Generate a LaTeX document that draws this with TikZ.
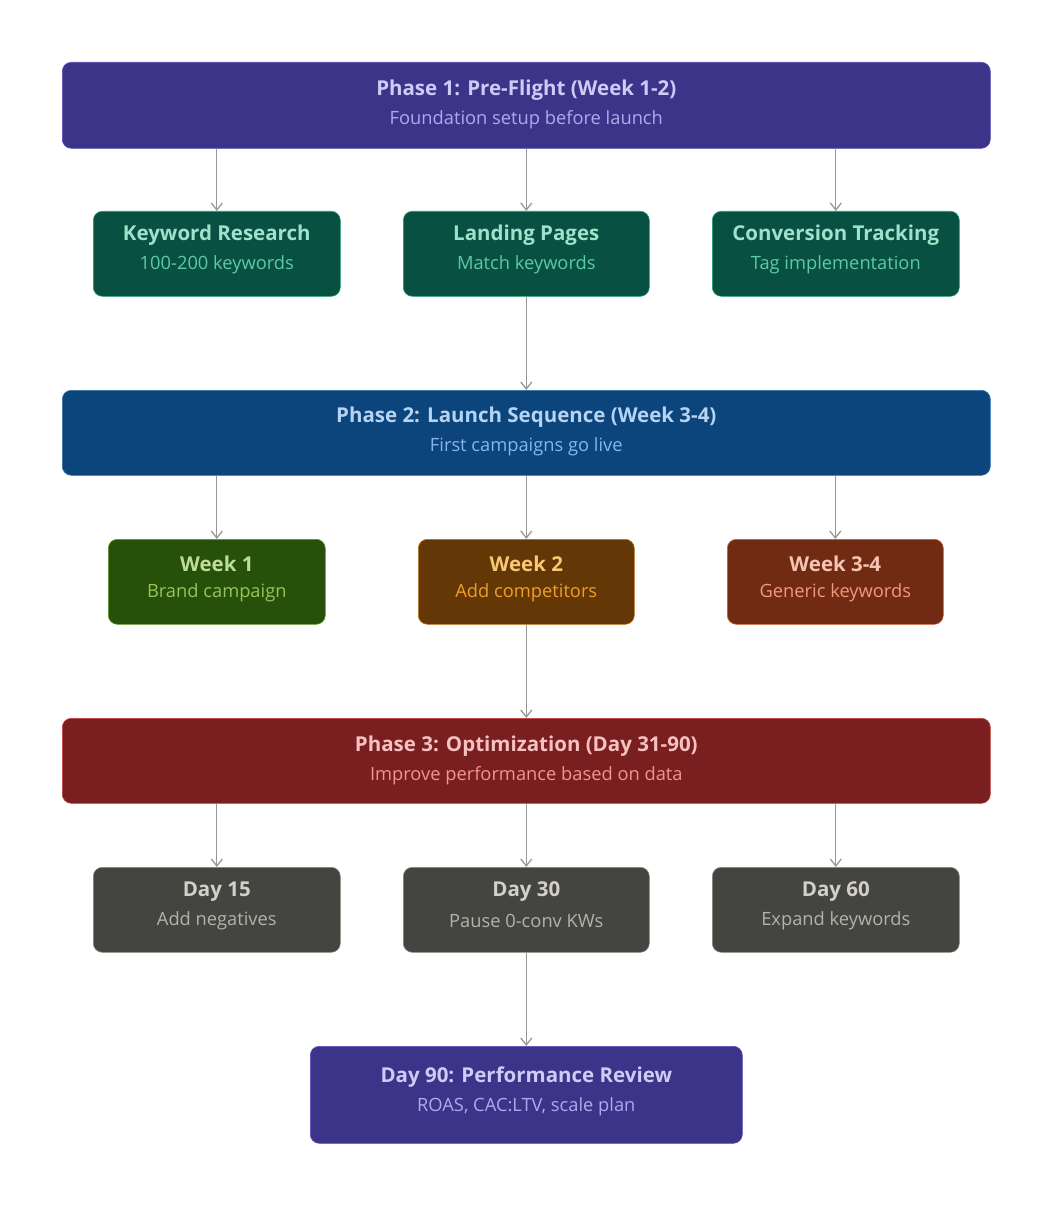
\documentclass[tikz,border=0pt]{standalone}
\usepackage{fontspec}
\setmainfont{Open Sans}
\usetikzlibrary{arrows.meta,calc}
\definecolor{pFill}{HTML}{3C3489}\definecolor{pLine}{HTML}{534AB7}\definecolor{pT}{HTML}{CECBF6}\definecolor{pS}{HTML}{AFA9EC}
\definecolor{tFill}{HTML}{085041}\definecolor{tLine}{HTML}{1D9E75}\definecolor{tT}{HTML}{9FE1CB}\definecolor{tS}{HTML}{5DCAA5}
\definecolor{bFill}{HTML}{0C447C}\definecolor{bLine}{HTML}{2F6FB0}\definecolor{bT}{HTML}{B5D4F4}\definecolor{bS}{HTML}{85B7EB}
\definecolor{gFill}{HTML}{27500A}\definecolor{gLine}{HTML}{639922}\definecolor{gT}{HTML}{C0DD97}\definecolor{gS}{HTML}{97C459}
\definecolor{aFill}{HTML}{633806}\definecolor{aLine}{HTML}{BA7517}\definecolor{aT}{HTML}{FAC775}\definecolor{aS}{HTML}{EF9F27}
\definecolor{cFill}{HTML}{712B13}\definecolor{cLine}{HTML}{D85A30}\definecolor{cT}{HTML}{F5C4B3}\definecolor{cS}{HTML}{F0997B}
\definecolor{rFill}{HTML}{791F1F}\definecolor{rLine}{HTML}{C43C3B}\definecolor{rT}{HTML}{F7C1C1}\definecolor{rS}{HTML}{F09595}
\definecolor{kFill}{HTML}{444441}\definecolor{kLine}{HTML}{888780}\definecolor{kT}{HTML}{D3D1C7}\definecolor{kS}{HTML}{B4B2A9}
\definecolor{arr}{HTML}{9A9893}
\tikzset{
  box/.style n args={3}{draw=#1Line, fill=#1Fill, line width=0.6pt, rounded corners=9pt,
    minimum width=#2, minimum height=#3, inner sep=0pt, anchor=north west},
  ttl/.style={font=\fontsize{20.5}{24}\selectfont\bfseries},
  sub/.style={font=\fontsize{18.3}{22}\selectfont},
  conn/.style={draw=arr, line width=1.3pt, -{Straight Barb[length=7pt,width=11pt,line width=1.3pt]}},
}
\newcommand{\mybox}[9]{%
  \node[box={#2}{#5}{#6}] (#1) at (#3,#4) {};
  \node[ttl, text=#2T] (#1t) at ($(#1.north)+(0,#7)$) {#8};
  \node[sub, text=#2S] (#1s) at ($(#1.north)+(0,#7+29)$) {#9};
}
\begin{document}
\begin{tikzpicture}[x=1pt,y=-1pt]
\useasboundingbox (0,0) rectangle (1052,1206);
\mybox{p1}{p}{62}{62}{928pt}{86pt}{28.5}{Phase 1: Pre-Flight (Week 1-2)}{Foundation setup before launch}
\mybox{k1}{t}{93}{211}{247pt}{85pt}{24.5}{Keyword Research}{100-200 keywords}
\mybox{k2}{t}{403}{211}{246pt}{85pt}{24.5}{Landing Pages}{Match keywords}
\mybox{k3}{t}{712}{211}{247pt}{85pt}{24.5}{Conversion Tracking}{Tag implementation}
\mybox{p2}{b}{62}{390}{928pt}{85pt}{27.5}{Phase 2: Launch Sequence (Week 3-4)}{First campaigns go live}
\mybox{w1}{g}{108}{539}{217pt}{85pt}{24.5}{Week 1}{Brand campaign}
\mybox{w2}{a}{418}{539}{216pt}{85pt}{24.5}{Week 2}{Add competitors}
\mybox{w3}{c}{727}{539}{216pt}{85pt}{24.5}{Week 3-4}{Generic keywords}
\mybox{p3}{r}{62}{718}{928pt}{85pt}{28.5}{Phase 3: Optimization (Day 31-90)}{Improve performance based on data}
\mybox{d1}{k}{93}{867}{247pt}{85pt}{24.5}{Day 15}{Add negatives}
\mybox{d2}{k}{403}{867}{246pt}{85pt}{24.5}{Day 30}{Pause 0-conv KWs}
\mybox{d3}{k}{712}{867}{247pt}{85pt}{24.5}{Day 60}{Expand keywords}
\mybox{fin}{p}{310}{1046}{432pt}{97pt}{31.5}{Day 90: Performance Review}{ROAS, CAC:LTV, scale plan}
\draw[conn] (p1.south -| k1.north) -- (k1.north);
\draw[conn] (p1.south -| k2.north) -- (k2.north);
\draw[conn] (p1.south -| k3.north) -- (k3.north);
\draw[conn] (k2.south) -- (p2.north -| k2.south);
\draw[conn] (p2.south -| w1.north) -- (w1.north);
\draw[conn] (p2.south -| w2.north) -- (w2.north);
\draw[conn] (p2.south -| w3.north) -- (w3.north);
\draw[conn] (w2.south) -- (p3.north -| w2.south);
\draw[conn] (p3.south -| d1.north) -- (d1.north);
\draw[conn] (p3.south -| d2.north) -- (d2.north);
\draw[conn] (p3.south -| d3.north) -- (d3.north);
\draw[conn] (d2.south) -- (fin.north);
\end{tikzpicture}
\end{document}
